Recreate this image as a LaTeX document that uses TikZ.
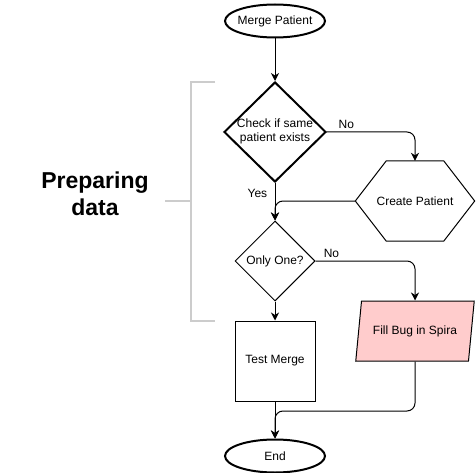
\documentclass[tikz,border=0pt]{standalone}
\usepackage{fontspec}
\setmainfont{Liberation Sans}
\usetikzlibrary{shapes.geometric,arrows.meta,calc}
\definecolor{pinkfill}{HTML}{FFCCCC}
\definecolor{brk}{HTML}{CCCCCC}
\begin{document}
\begin{tikzpicture}[x=1pt,y=-1pt,
  font=\fontsize{12}{14}\selectfont,
  conn/.style={draw, line width=1pt, rounded corners=8pt, -{Stealth[length=8pt,width=8pt,inset=2.5pt]}},
  plain/.style={draw, line width=1pt, rounded corners=8pt},
  term/.style={ellipse, draw, line width=2pt, minimum width=100pt, minimum height=33pt, inner sep=0pt},
  decide/.style={diamond, draw, inner sep=0pt},
  proc/.style={rectangle, draw, line width=1pt, minimum width=80pt, minimum height=80pt, inner sep=0pt},
  bracket/.style={draw=brk, line width=1.6pt},
  lbl/.style={font=\fontsize{12}{14}\selectfont}]
\useasboundingbox (0,0) rectangle (476,473);

% nodes
\node[term] (mp) at (275,21) {\makebox[0pt]{Merge Patient}};
\node[decide, line width=2pt, minimum width=102pt, minimum height=100pt] (d1) at (275,132)
  {\makebox[0pt]{\begin{tabular}{@{}c@{}}Check if same\\patient exists\end{tabular}}};
\node[minimum width=119pt, minimum height=80pt, inner sep=0pt] (cp) at (415,201) {Create Patient};
\draw[line width=1pt] (cp.west) -- ($(cp.north west)+(31,0)$) -- ($(cp.north east)+(-31,0)$)
  -- (cp.east) -- ($(cp.south east)+(-31,0)$) -- ($(cp.south west)+(31,0)$) -- cycle;
\node[decide, line width=1pt, minimum width=80pt, minimum height=80pt] (d2) at (275,261)
  {\makebox[0pt]{Only One?}};
\node[trapezium, trapezium left angle=68, trapezium right angle=112, trapezium stretches=true,
  draw, line width=1pt, fill=pinkfill, minimum width=119pt, minimum height=60pt, inner sep=0pt]
  (bug) at (415,331) {Fill Bug in Spira};
\node[proc] (tm) at (275,361) {Test Merge};
\node[term] (end) at (275,456) {\makebox[0pt]{End}};

\node[font=\bfseries\fontsize{23}{27}\selectfont, align=center, inner sep=0pt] (prep) at (95,193.5) {Preparing\\data};

% connectors
\draw[conn] (mp.south) -- (d1.north);
\draw[conn] (d1.east) -| node[lbl, pos=0.11, above] {No} (cp.north);
\draw[conn] (d1.south) -- node[lbl, pos=0.27, left, xshift=-4pt] {Yes} (d2.north);
\draw[conn] (cp.west) -| (d2.north);
\draw[conn] (d2.east) -| node[lbl, pos=0.08, above] {No} (bug.north);
\draw[conn] (d2.south) -- (tm.north);
\draw[conn] (tm.south) -- (end.north);
\coordinate (j) at (275,411);
\draw[conn] (bug.south) |- (j) -- (end.north);

% bracket
\coordinate (b1) at (215,82);
\coordinate (b2) at (191,82);
\coordinate (b3) at (191,321);
\coordinate (b4) at (215,321);
\coordinate (bm) at (191,201);
\coordinate (bs) at (165,201);
\draw[bracket] (b1) -- (b2) -- (b3) -- (b4);
\draw[bracket] (bs) -- (bm);
\end{tikzpicture}
\end{document}
